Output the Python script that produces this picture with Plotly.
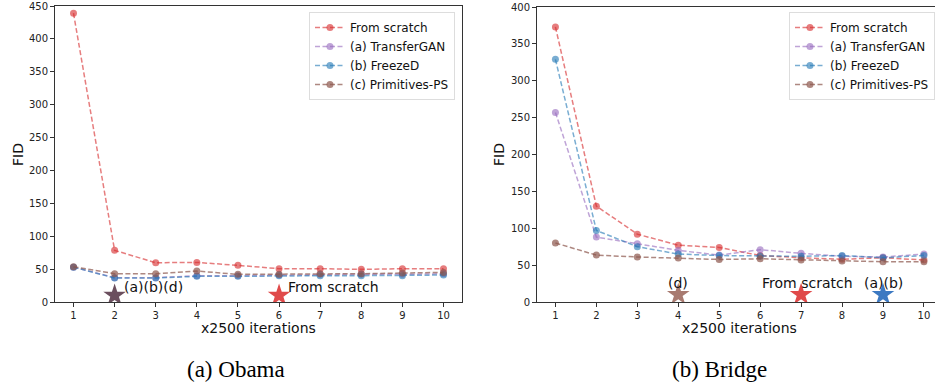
import plotly.graph_objects as go

# ---------------- data ----------------
iterations = [1, 2, 3, 4, 5, 6, 7, 8, 9, 10]
series_names = ["From scratch", "(a) TransferGAN", "(b) FreezeD", "(c) Primitives-PS"]

obama_scratch = [439, 78.5, 59.7, 60.2, 55.7, 50.6, 50.6, 49.6, 50.6, 50.6]
obama_transfergan = [53, 37, 37, 40, 40, 41, 42, 42, 42, 43]
obama_freezed = [53, 36.4, 36.4, 39, 39, 40, 40, 40, 40, 41]
obama_primitives = [53.7, 43, 43, 47, 42, 42, 43, 43, 44, 45]

bridge_scratch = [373, 130, 92, 77, 74, 63, 60, 58, 60, 57]
bridge_transfergan = [257, 88, 79, 70, 63.6, 71, 66, 62, 61, 65]
bridge_freezed = [329, 97, 75, 65, 63, 62, 62, 63, 60, 63]
bridge_primitives = [80, 63.6, 61, 59.5, 57.7, 58.6, 57, 55.5, 54.6, 54.6]

# best-iteration stars: x, y, label
obama_star_x = [2, 6]
obama_star_y = [10, 10]
obama_star_labels = ["(a)(b)(d)", "From scratch"]
bridge_star_x = [4, 7, 9]
bridge_star_y = [10, 10, 10]
bridge_star_labels = ["(d)", "From scratch", "(a)(b)"]

x_ticks = [1, 2, 3, 4, 5, 6, 7, 8, 9, 10]
obama_y_ticks = [0, 50, 100, 150, 200, 250, 300, 350, 400, 450]
bridge_y_ticks = [0, 50, 100, 150, 200, 250, 300, 350, 400]

# ---------------- style ----------------
colors = ["rgba(214,39,40,0.6)", "rgba(148,103,189,0.6)",
          "rgba(31,119,180,0.6)", "rgba(140,86,75,0.7)"]
obama_star_colors = ["#6b4f5e", "#e04a4a"]
bridge_star_colors = ["#a87a70", "#e04a4a", "#3c79c2"]
FONT = "DejaVu Sans"
W, H = 935, 383

def px_x(p):
    return p / W

def px_y(p):
    return 1 - p / H

fig = go.Figure()

obama = [obama_scratch, obama_transfergan, obama_freezed, obama_primitives]
bridge = [bridge_scratch, bridge_transfergan, bridge_freezed, bridge_primitives]

for i, (name, ys) in enumerate(zip(series_names, obama)):
    fig.add_trace(go.Scatter(
        x=iterations, y=ys, name=name, mode="lines+markers",
        line=dict(color=colors[i], width=1.5, dash="5px,2.5px"),
        marker=dict(color=colors[i], size=7),
        xaxis="x", yaxis="y", legend="legend"))

for i, (name, ys) in enumerate(zip(series_names, bridge)):
    fig.add_trace(go.Scatter(
        x=iterations, y=ys, name=name, mode="lines+markers",
        line=dict(color=colors[i], width=1.5, dash="5px,2.5px"),
        marker=dict(color=colors[i], size=7),
        xaxis="x2", yaxis="y2", legend="legend2"))

fig.add_trace(go.Scatter(
    x=obama_star_x, y=obama_star_y, mode="markers", showlegend=False,
    marker=dict(symbol="star", size=17, color=obama_star_colors, line=dict(width=0)),
    xaxis="x", yaxis="y"))
fig.add_trace(go.Scatter(
    x=bridge_star_x, y=bridge_star_y, mode="markers", showlegend=False,
    marker=dict(symbol="star", size=17, color=bridge_star_colors, line=dict(width=0)),
    xaxis="x2", yaxis="y2"))

annotations = []
# star labels (left: to the right of the star; right: centred above)
for sx, sy, lab in zip(obama_star_x, obama_star_y, obama_star_labels):
    annotations.append(dict(x=sx + 0.18, y=sy + 13, xref="x", yref="y", text=lab,
                            showarrow=False, xanchor="left", yanchor="middle",
                            font=dict(family=FONT, size=14, color="#111")))
bridge_label_dx = [0, 0.15, 0]
for sx, sy, lab, dx in zip(bridge_star_x, bridge_star_y, bridge_star_labels, bridge_label_dx):
    annotations.append(dict(x=sx + dx, y=sy + 16, xref="x2", yref="y2", text=lab,
                            showarrow=False, xanchor="center", yanchor="middle",
                            font=dict(family=FONT, size=14, color="#111")))

def paper_text(x, y, text, size, family=FONT, angle=0, color="#111"):
    return dict(x=px_x(x), y=px_y(y), xref="paper", yref="paper", text=text,
                textangle=angle, showarrow=False, xanchor="center", yanchor="middle",
                font=dict(family=family, size=size, color=color))

annotations += [
    paper_text(18, 155, "FID", 14, angle=-90),
    paper_text(499, 155, "FID", 14, angle=-90),
    paper_text(258, 328, "x2500 iterations", 14),
    paper_text(739, 328, "x2500 iterations", 14),
    paper_text(236, 369, "(a) Obama", 23, family="Liberation Serif", color="#000"),
    paper_text(719, 369, "(b) Bridge", 23, family="Liberation Serif", color="#000"),
]

axis_common = dict(showgrid=False, zeroline=False, showline=True, linecolor="#333",
                   linewidth=1, ticks="outside", ticklen=4, tickwidth=1, tickcolor="#333",
                   automargin=False,
                   tickfont=dict(family=FONT, size=10, color="#222"))

legend_common = dict(xanchor="right", yanchor="top",
                     bgcolor="rgba(255,255,255,0.8)", bordercolor="#ddd", borderwidth=1,
                     font=dict(family=FONT, size=12, color="#111"), itemwidth=30,
                     tracegroupgap=0)

fig.update_layout(
    width=W, height=H,
    margin=dict(l=0, r=0, t=0, b=0, autoexpand=False),
    paper_bgcolor="white", plot_bgcolor="white",
    showlegend=True,
    xaxis=dict(domain=[px_x(55), px_x(462)], range=[0.55, 10.45], tickvals=x_ticks,
               mirror=True, anchor="y", **axis_common),
    yaxis=dict(domain=[px_y(302), px_y(6)], range=[0, 450], tickvals=obama_y_ticks,
               mirror=True, anchor="x", **axis_common),
    xaxis2=dict(domain=[px_x(537), 1.0], range=[0.55, 10.27], tickvals=x_ticks,
                mirror=True, anchor="y2", **axis_common),
    yaxis2=dict(domain=[px_y(302), px_y(7)], range=[0, 400], tickvals=bridge_y_ticks,
                mirror=False, anchor="x2", **axis_common),
    legend=dict(x=px_x(455), y=px_y(12), **legend_common),
    legend2=dict(x=px_x(935), y=px_y(12), **legend_common),
    annotations=annotations,
)

fig.write_html("out.html",
               config={"displayModeBar": False},
               post_script="document.body.style.margin='0';document.body.style.overflow='hidden';")
